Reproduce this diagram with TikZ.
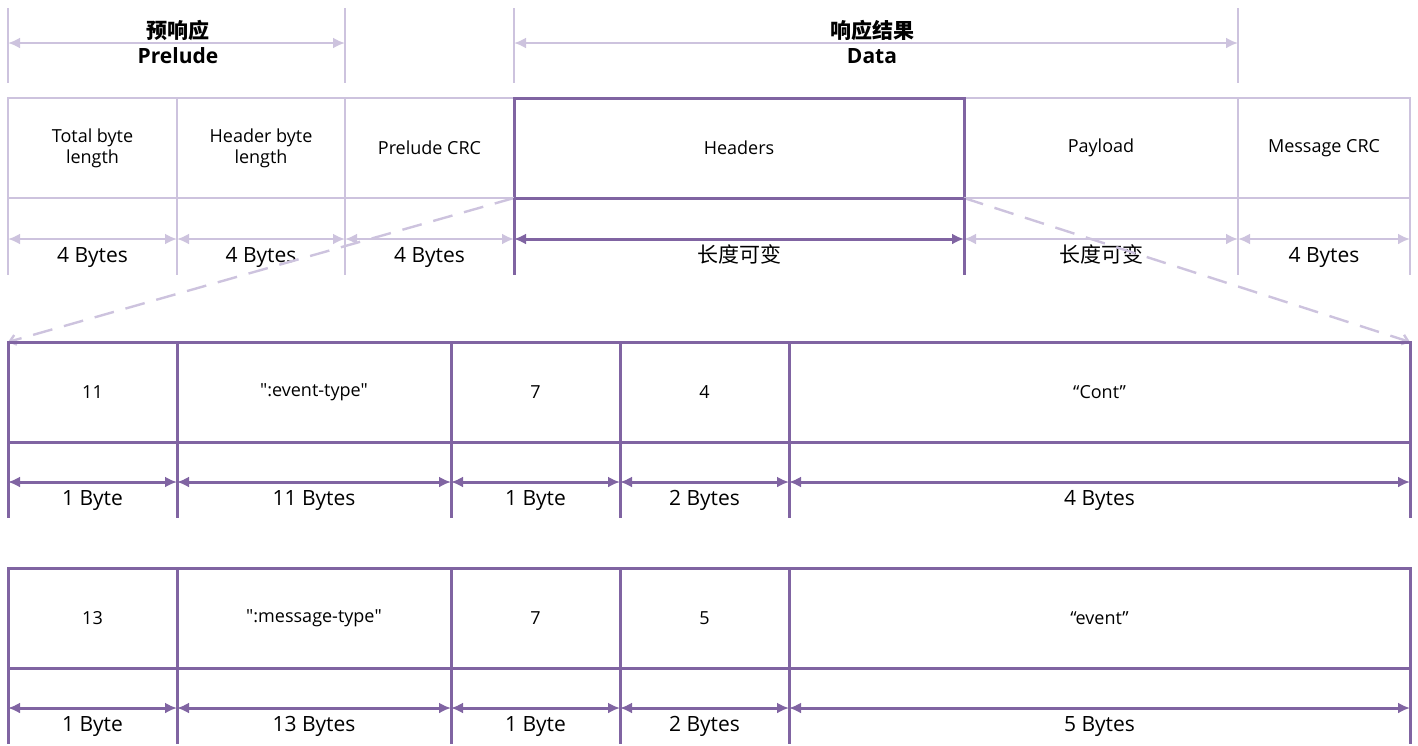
\documentclass[tikz,border=0pt]{standalone}
\usepackage{fontspec}
\setmainfont{Open Sans}
\newfontfamily\cjk{Noto Sans CJK SC}
\usetikzlibrary{arrows.meta, positioning, calc}
\definecolor{lineLight}{HTML}{CDC3DE}
\definecolor{lineDark}{HTML}{8064A2}
\tikzset{
    % Cells
    cellLight/.style={rectangle, draw=lineLight, line width=2.4pt, inner sep=0pt, outer sep=0pt,
        minimum height=100pt, anchor=north west, align=center, font=\fontsize{18}{21}\selectfont},
    cellDark/.style={cellLight, draw=lineDark, line width=3pt},
    % Guides and dimension arrows
    guideLight/.style={draw=lineLight, line width=2.4pt},
    guideDark/.style={draw=lineDark, line width=3pt},
    dimLight/.style={{Latex[length=12pt,width=11pt]}-{Latex[length=12pt,width=11pt]}, draw=lineLight, line width=2.4pt},
    dimDark/.style={{Latex[length=12pt,width=11pt]}-{Latex[length=12pt,width=11pt]}, draw=lineDark, line width=3pt},
    zoomLine/.style={-{Straight Barb[length=6pt,width=10pt]}, draw=lineLight, line width=2.4pt, dash pattern=on 20pt off 12pt},
    % Texts
    sizeLabel/.style={font=\fontsize{21}{24}\selectfont, text height=15pt, text depth=5pt, inner sep=0pt},
    titleText/.style={align=center, font=\bfseries\fontsize{21}{25}\selectfont}
}
\begin{document}
\begin{tikzpicture}[x=1pt, y=-1pt]
\useasboundingbox (0,0) rectangle (1418,745);
% top brackets
\foreach \n/\x in {tA/8, tB/345, tC/514, tD/1238} {
    \coordinate (\n) at (\x,43);
    \draw[guideLight] ([yshift=35pt]\n) -- ([yshift=-40pt]\n);
}
\draw[dimLight] (tA) -- (tB);
\draw[dimLight] (tC) -- (tD);
\node[titleText] (ttlPrelude) at (178,42) {{\cjk\bfseries 预响应}\\Prelude};
\node[titleText] (ttlData) at (872,42) {{\cjk\bfseries 响应结果}\\Data};

% message fields
\foreach \n/\x/\w/\t/\s in {f1/8/169/{Total byte\\length}/4 Bytes, f2/177/168/{Header byte\\length}/4 Bytes,
        f3/345/169/Prelude CRC/4 Bytes, f5/964/274/Payload/{\cjk 长度可变}, f6/1238/172/Message CRC/4 Bytes} {
    \node[cellLight, minimum width=\w pt] (\n) at (\x,98) {\t};
    \draw[guideLight] (\n.south west) -- ++(0,77);
    \draw[guideLight] (\n.south east) -- ++(0,77);
    \draw[dimLight] ([yshift=-41pt]\n.south west) -- ([yshift=-41pt]\n.south east)
        node[midway, sizeLabel, yshift=-18pt] {\s};
}
\node[cellDark, minimum width=450pt] (f4) at (514,98) {Headers};
\draw[zoomLine] (f4.south west) -- (8,342);
\draw[zoomLine] (f4.south east) -- (1410,342);
\draw[guideDark] (f4.south west) -- ++(0,77);
\draw[guideDark] (f4.south east) -- ++(0,77);
\draw[dimDark] ([yshift=-41pt]f4.south west) -- ([yshift=-41pt]f4.south east)
    node[midway, sizeLabel, yshift=-18pt] {\cjk 长度可变};

% header: event type
\foreach \n/\x/\w/\t/\s in {a1/8/169/11/1 Byte, a2/177/274/{\textquotedbl:event-type\textquotedbl}/11 Bytes, a3/451/169/7/1 Byte,
        a4/620/169/4/2 Bytes, a5/789/621/“Cont”/4 Bytes} {
    \node[cellDark, minimum width=\w pt] (\n) at (\x,342) {\t};
    \draw[guideDark] (\n.south west) -- ++(0,76);
    \draw[guideDark] (\n.south east) -- ++(0,76);
    \draw[dimDark] ([yshift=-40pt]\n.south west) -- ([yshift=-40pt]\n.south east)
        node[midway, sizeLabel, yshift=-18pt] {\s};
}

% header: message type
\foreach \n/\x/\w/\t/\s in {b1/8/169/13/1 Byte, b2/177/274/{\textquotedbl:message-type\textquotedbl}/13 Bytes, b3/451/169/7/1 Byte,
        b4/620/169/5/2 Bytes, b5/789/621/“event”/5 Bytes} {
    \node[cellDark, minimum width=\w pt] (\n) at (\x,568) {\t};
    \draw[guideDark] (\n.south west) -- ++(0,76);
    \draw[guideDark] (\n.south east) -- ++(0,76);
    \draw[dimDark] ([yshift=-40pt]\n.south west) -- ([yshift=-40pt]\n.south east)
        node[midway, sizeLabel, yshift=-18pt] {\s};
}
\end{tikzpicture}
\end{document}
